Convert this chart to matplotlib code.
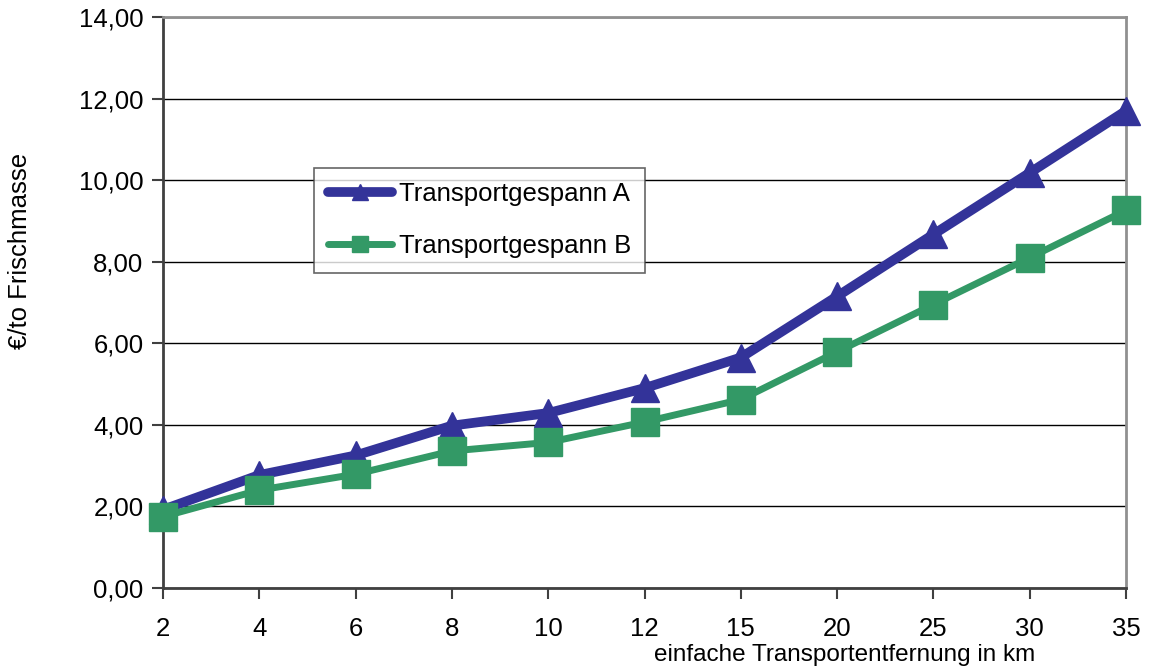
import numpy as np
import matplotlib.pyplot as plt

plt.rcParams['font.family'] = ['Liberation Sans', 'DejaVu Sans']

# distances (km) shown as evenly spaced categories
distances = ["2", "4", "6", "8", "10", "12", "15", "20", "25", "30", "35"]
cost_a = [1.92, 2.77, 3.25, 3.98, 4.29, 4.90, 5.65, 7.15, 8.67, 10.18, 11.70]
cost_b = [1.75, 2.40, 2.79, 3.36, 3.57, 4.07, 4.62, 5.79, 6.95, 8.10, 9.26]
y_ticks = [0, 2, 4, 6, 8, 10, 12, 14]

blue = "#333399"
green = "#339966"

fig = plt.figure(figsize=(11.49, 6.68), dpi=100)
ax = fig.add_axes([163 / 1149, 1 - 588 / 668, (1126 - 163) / 1149, (588 - 17) / 668])

x = np.arange(len(distances))
ax.plot(x, cost_a, color=blue, lw=7, marker="^", markersize=20,
        solid_capstyle="round", label="Transportgespann A", zorder=3, clip_on=False)
ax.plot(x, cost_b, color=green, lw=5, marker="s", markersize=20,
        solid_capstyle="round", label="Transportgespann B", zorder=3, clip_on=False)

ax.set_xlim(0, len(distances) - 1)
ax.set_ylim(0, 14)
ax.set_xticks(x)
ax.set_xticklabels(distances)
ax.set_yticks(y_ticks)
ax.set_yticklabels([f"{v:.2f}".replace(".", ",") for v in y_ticks])
ax.tick_params(labelsize=18.5, length=8, width=1.5, color="#404040", pad=6)
ax.tick_params(axis="x", pad=13)

ax.grid(axis="y", color="black", lw=1)
ax.set_axisbelow(True)
for side in ["left", "bottom"]:
    ax.spines[side].set_color("#404040")
    ax.spines[side].set_linewidth(2)
for side in ["top", "right"]:
    ax.spines[side].set_color("#909090")
    ax.spines[side].set_linewidth(2)

leg = ax.legend(loc="upper left", bbox_to_anchor=((314 - 163) / 963, (588 - 168) / 571),
                fontsize=18.5, frameon=True, fancybox=False, edgecolor="#404040",
                handlelength=2.5, handletextpad=0.25, labelspacing=1.1,
                borderpad=0.55, borderaxespad=0, markerscale=0.6)
leg.get_frame().set_linewidth(1.2)

fig.text(20 / 1149, 1 - 251 / 668, "€/to Frischmasse", rotation=90,
         fontsize=18.5, ha="center", va="center")
fig.text(845 / 1149, 1 - 655 / 668, "einfache Transportentfernung in km",
         fontsize=17.5, ha="center", va="center")

fig.savefig("out.png", dpi=100)
